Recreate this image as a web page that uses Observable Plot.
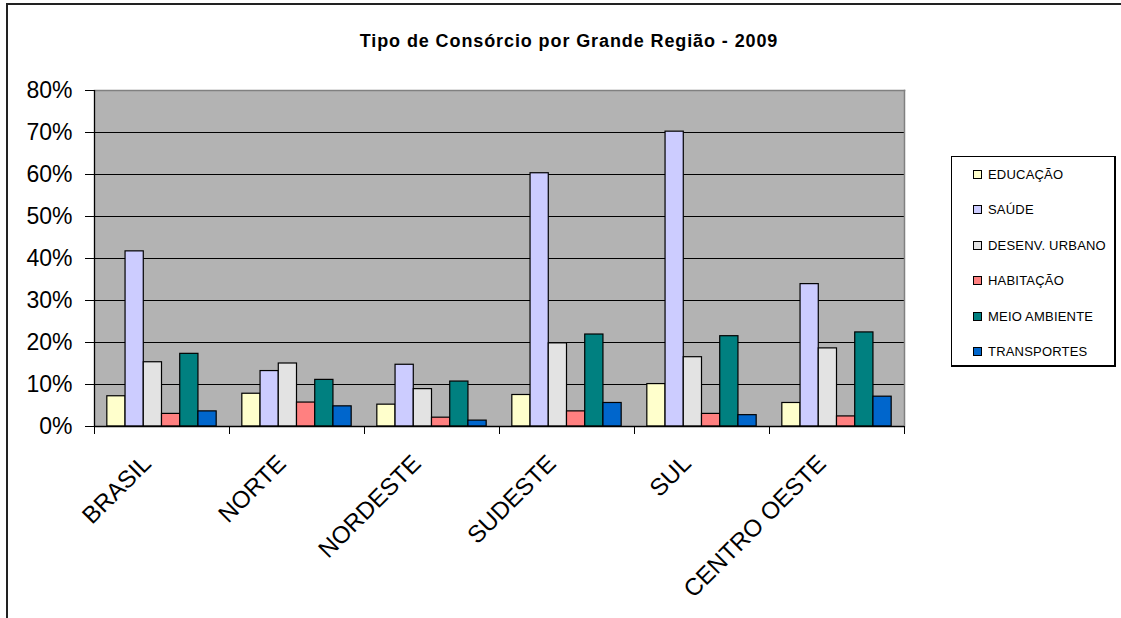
<!DOCTYPE html>
<html>
<head>
<meta charset="utf-8">
<script src="https://cdn.jsdelivr.net/npm/d3@7"></script>
<script src="https://cdn.jsdelivr.net/npm/@observablehq/plot@0.6"></script>
<style>
  html, body { margin: 0; padding: 0; background: #fff; }
  #chart {
    position: relative; width: 1121px; height: 618px; overflow: hidden;
    font-family: "Liberation Sans", Arial, sans-serif; color: #000;
  }
  #border {
    position: absolute; left: 6px; top: 3px; width: 1130px; height: 640px;
    border: 2px solid #222; box-sizing: border-box;
  }
  #title {
    position: absolute; top: 31px; left: 569px; transform: translateX(-50%);
    font-weight: bold; font-size: 18px; letter-spacing: 0.9px; white-space: nowrap;
  }
  #legend {
    position: absolute; left: 951px; top: 156px; width: 165px; height: 211px;
    box-sizing: border-box; border: 1px solid #000; border-bottom-width: 2px; border-right-width: 2px;
    background: #fff;
  }
  .item { position: absolute; left: 21px; height: 14px; display: flex; align-items: center;
    font-size: 13px; white-space: nowrap; letter-spacing: 0.2px; }
  .swatch { width: 7px; height: 7px; border: 1px solid #000; margin-right: 6px; }
  svg { position: absolute; left: 0; top: 0; }
</style>
</head>
<body>
<div id="chart">
  <div id="border"></div>
  <div id="title">Tipo de Consórcio por Grande Região - 2009</div>
  <div id="legend"></div>
</div>
<script>
// Regions (x categories) and consortium types (series)
const regions = ["BRASIL", "NORTE", "NORDESTE", "SUDESTE", "SUL", "CENTRO OESTE"];
const seriesNames = ["EDUCAÇÃO", "SAÚDE", "DESENV. URBANO", "HABITAÇÃO", "MEIO AMBIENTE", "TRANSPORTES"];
const seriesColors = ["#ffffcc", "#ccccff", "#e3e3e3", "#ff8080", "#008080", "#0066cc"];

// Share of municipalities with each consortium type, per region
const educacao     = [0.072, 0.078, 0.052, 0.075, 0.101, 0.056];
const saude        = [0.417, 0.132, 0.147, 0.603, 0.702, 0.339];
const desenvUrbano = [0.153, 0.150, 0.089, 0.198, 0.165, 0.186];
const habitacao    = [0.030, 0.057, 0.021, 0.036, 0.030, 0.024];
const meioAmbiente = [0.173, 0.111, 0.107, 0.219, 0.215, 0.224];
const transportes  = [0.036, 0.048, 0.014, 0.056, 0.027, 0.071];

const yTicks = [0, 0.1, 0.2, 0.3, 0.4, 0.5, 0.6, 0.7, 0.8];

const seriesValues = [educacao, saude, desenvUrbano, habitacao, meioAmbiente, transportes];
const rows = [];
seriesNames.forEach((s, si) => {
  regions.forEach((r, ri) => rows.push({region: r, ri, series: s, si, value: seriesValues[si][ri]}));
});

// Each region occupies one unit on x; bars sit side by side inside it
const barW = 0.135;
const lead = (1 - barW * seriesNames.length) / 2;

const plot = Plot.plot({
  width: 1121,
  height: 618,
  marginLeft: 94,
  marginRight: 217,
  marginTop: 90,
  marginBottom: 192,
  style: {fontFamily: "'Liberation Sans', Arial, sans-serif", background: "transparent", color: "#000"},
  x: {domain: [0, regions.length], axis: null},
  y: {domain: [0, 0.8], axis: null},
  color: {domain: seriesNames, range: seriesColors},
  marks: [
    Plot.frame({fill: "#b3b3b3"}),
    Plot.ruleY(yTicks.slice(1, -1), {stroke: "#000", strokeWidth: 1}),
    Plot.frame({anchor: "top", stroke: "#808080", strokeWidth: 1.5}),
    Plot.frame({anchor: "right", stroke: "#808080", strokeWidth: 1.5}),
    Plot.rectY(rows, {
      x1: d => d.ri + lead + d.si * barW,
      x2: d => d.ri + lead + (d.si + 1) * barW,
      y1: 0,
      y2: "value",
      fill: "series",
      stroke: "#000",
      strokeWidth: 1.2
    }),
    Plot.ruleX([0], {stroke: "#000", strokeWidth: 1.3}),
    Plot.ruleY([0], {stroke: "#000", strokeWidth: 1.3}),
    Plot.axisY({ticks: yTicks, tickFormat: d3.format(".0%"), tickSize: 9, tickPadding: 13,
      fontSize: 23, stroke: "#000", label: null}),
    Plot.axisX({ticks: d3.range(regions.length + 1), tickFormat: () => "", tickSize: 8,
      stroke: "#000", label: null}),
    Plot.axisX({ticks: regions.map((r, i) => i + 0.5), tickFormat: v => regions[Math.floor(v)],
      tickRotate: -45, tickSize: 0, tickPadding: 33, dx: -15, fontSize: 24, label: null})
  ]
});
document.getElementById("chart").appendChild(plot);

// Legend box built from the same series names and colours
const legend = d3.select("#legend");
seriesNames.forEach((s, i) => {
  const item = legend.append("div").attr("class", "item").style("top", (10 + i * 35.5) + "px");
  item.append("div").attr("class", "swatch").style("background", seriesColors[i]);
  item.append("span").text(s);
});
</script>
</body>
</html>
